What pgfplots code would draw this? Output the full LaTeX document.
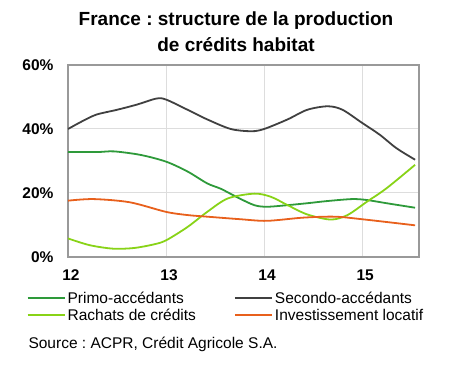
\documentclass[border=0pt]{standalone}
\usepackage{pgfplots}
\pgfplotsset{compat=1.18}
\usepackage{fontspec}
\setmainfont{Liberation Sans}
\frenchspacing
\definecolor{primo}{HTML}{2E9A3A}
\definecolor{secondo}{HTML}{404040}
\definecolor{rachats}{HTML}{88D317}
\definecolor{invest}{HTML}{E8601C}
\definecolor{gridc}{HTML}{DDDDDD}
\definecolor{framec}{HTML}{999999}
\begin{document}
\begin{tikzpicture}[x=1pt,y=1pt]
\useasboundingbox (0,0) rectangle (458,387);
\node[font=\fontsize{19}{22}\selectfont\bfseries] at (236,366) {France : structure de la production};
\node[font=\fontsize{19}{22}\selectfont\bfseries] at (236,342) {de crédits habitat};
\begin{axis}[
  at={(68pt,130pt)}, anchor=south west,
  scale only axis, width=351pt, height=192pt,
  xmin=12, xmax=15.58, ymin=0, ymax=60,
  xtick={12,13,14,15}, ytick={0,20,40,60},
  yticklabel={\pgfmathprintnumber{\tick}\%},
  /pgf/number format/assume math mode=true,
  ticklabel style={font=\fontsize{15.5}{17}\selectfont\bfseries},
  xticklabel style={xshift=3pt, yshift=-9pt},
  yticklabel style={xshift=-11pt},
  major tick length=0pt,
  grid=major, major grid style={gridc, line width=1pt},
  axis line style={framec, line width=1.2pt},
  legend columns=2,
  legend cell align=left,
  legend style={at={(-0.127,-0.16)}, anchor=north west, draw=none, fill=none,
    font=\fontsize{15.5}{17}\selectfont, row sep=0pt,
    /tikz/every even column/.append style={column sep=36pt}},
  legend image code/.code={\draw[#1, line width=2pt] (0pt,0pt) -- (37pt,0pt);},
  every axis plot/.append style={line width=1.8pt, smooth, tension=0.5, no markers},
]
\addplot[primo] coordinates {(12.0,32.8) (12.3,32.8) (12.47,33.0) (12.74,31.9) (13.0,29.8) (13.22,26.7) (13.42,23.0) (13.56,21.3) (13.73,18.6) (13.9,16.2) (14.03,15.7) (14.24,16.2) (14.44,16.8) (14.65,17.5) (14.9,18.1) (15.05,17.8) (15.25,16.8) (15.54,15.4)};
\addlegendentry{Primo-accédants}
\addplot[secondo] coordinates {(12.0,40) (12.15,42.5) (12.29,44.5) (12.5,46) (12.7,47.6) (12.9,49.5) (13.0,49.2) (13.22,46) (13.42,43) (13.66,40) (13.87,39.3) (14.0,40) (14.24,43) (14.44,46) (14.65,47.1) (14.8,46) (15.0,41.9) (15.18,38.2) (15.35,34) (15.54,30.4)};
\addlegendentry{Secondo-accédants}
\addplot[rachats] coordinates {(12.0,5.8) (12.22,3.7) (12.46,2.6) (12.67,2.8) (12.87,3.9) (13.0,5.2) (13.22,9.4) (13.42,14.1) (13.63,18.3) (13.9,19.8) (14.07,18.8) (14.24,16.2) (14.44,13.3) (14.68,11.7) (14.85,13.1) (15.05,17.3) (15.25,21.5) (15.54,28.8)};
\addlegendentry{Rachats de crédits}
\addplot[invest] coordinates {(12.0,17.6) (12.26,18.1) (12.63,17.1) (13.0,14.1) (13.22,13.1) (13.42,12.6) (13.76,11.8) (14.03,11.3) (14.4,12.3) (14.72,12.6) (15.0,11.8) (15.54,9.9)};
\addlegendentry{Investissement locatif}
\end{axis}
\node[anchor=west, font=\fontsize{15.5}{18}\selectfont] at (25,43) {Source : ACPR, Crédit Agricole S.A.};
\end{tikzpicture}
\end{document}
